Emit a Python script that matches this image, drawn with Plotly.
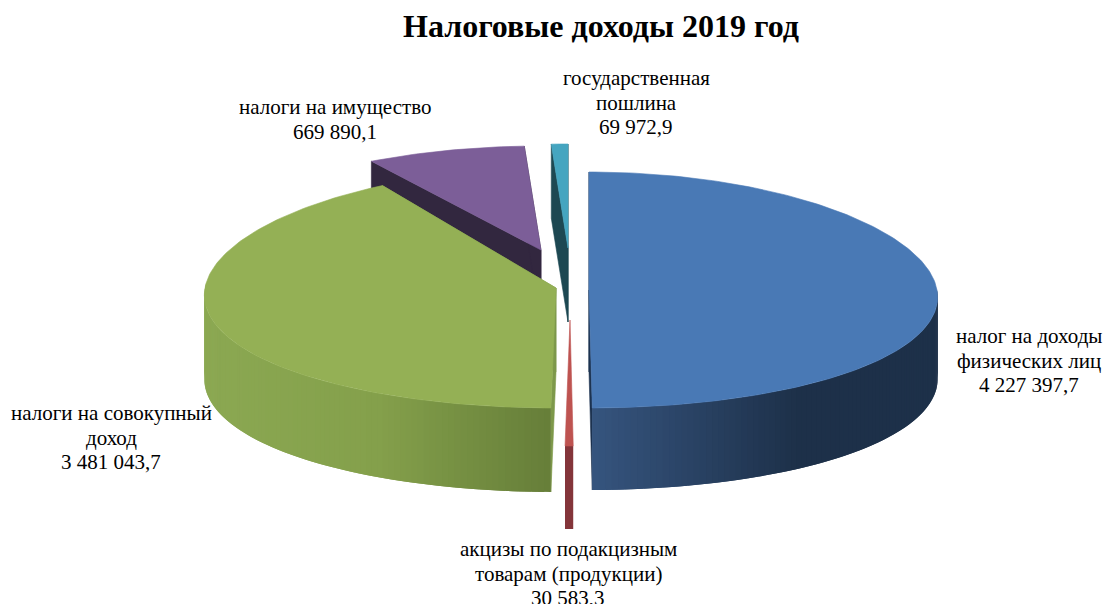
import math

import plotly.graph_objects as go

"""
Tax revenue 2019, drawn as a tilted, exploded pie.
Plotly's own pie is flat, so the slices are built as filled scatter polygons
with their angles worked out from the values.
"""

CATEGORIES = [
    ["налог на доходы", "физических лиц"],
    ["акцизы по подакцизным", "товарам (продукции)"],
    ["налоги на совокупный", "доход"],
    ["налоги на имущество"],
    ["государственная", "пошлина"],
]
VALUES = [4227397.7, 30583.3, 3481043.7, 669890.1, 69972.9]

TITLE = "Налоговые доходы 2019 год"

TOP_COLORS = ["#4979B5", "#BE5350", "#94B055", "#7C5E98", "#45A5C0"]
SIDE_COLORS = ["#1D3350", "#84353A", "#7D984A", "#32273F", "#1D4852"]
# Outer wall shading, left to right: (fraction of width, colour)
WALL_STOPS = [
    [(0.0, "#36557F"), (0.6, "#1D3049"), (1.0, "#1D3049")],
    [(0.0, "#84353A"), (1.0, "#84353A")],
    [(0.0, "#8BA852"), (0.5, "#84A04B"), (1.0, "#667E39")],
    [(0.0, "#32273F"), (1.0, "#32273F")],
    [(0.0, "#1D4852"), (1.0, "#1D4852")],
]

# Exploded slice geometry, in page pixels: centre x, centre y, rx, ry, depth
SLICE_SHAPES = [
    (589, 290, 348, 118, 82),
    (570, 320, 340, 126, 83),
    (556, 288, 351, 120, 84),
    (541, 250, 343, 104, 74),
    (568, 248, 343, 104, 74),
]
PERSPECTIVE = 0.06

# Back slices go first so the green one can cover them
DRAW_ORDER = [3, 4, 0, 2, 1]

# First line centre of each label: x, y
LABEL_POSITIONS = [
    (1029, 336),
    (568, 549),
    (111, 413),
    (335, 107),
    (636, 78),
]
LINE_STEP = 24.5


def format_value(v):
    return f"{v:,.1f}".replace(",", " ").replace(".", ",")


def hex_to_rgb(c):
    return tuple(int(c[i:i + 2], 16) for i in (1, 3, 5))


def wall_color(stops, frac):
    """
    Linear blend between the stops of a wall
    """
    for (f0, c0), (f1, c1) in zip(stops, stops[1:]):
        if frac <= f1:
            t = (frac - f0) / (f1 - f0)
            a, b = hex_to_rgb(c0), hex_to_rgb(c1)
            return "rgb({},{},{})".format(*[round(a[i] + (b[i] - a[i]) * t) for i in range(3)])
    return stops[-1][1]


def project(shape, angle):
    """
    Angle is clockwise from 12 o'clock, the back of the pie is a little narrower
    """
    cx, cy, rx, ry, _ = shape
    a = math.radians(angle)
    scale = 1 - PERSPECTIVE * math.cos(a)
    return cx + rx * math.sin(a) * scale, cy - ry * math.cos(a)


def add_polygon(fig, xs, ys, color, width=0.6):
    fig.add_trace(go.Scatter(x=xs, y=ys, mode="lines", fill="toself", fillcolor=color,
                             line=dict(color=color, width=width), hoverinfo="skip",
                             showlegend=False))


def add_slice(fig, shape, start, end, top, side, stops):
    cx, cy, _, _, depth = shape

    # Radial walls, the very thin slice does not show any
    if end - start > 2:
        for angle in (start, end):
            ox, oy = project(shape, angle)
            add_polygon(fig, [cx, cx, ox, ox, cx], [cy, cy + depth, oy + depth, oy, cy], side)

    steps = max(2, int(end - start))
    angles = [start + (end - start) * i / steps for i in range(steps + 1)]
    rim = [project(shape, a) for a in angles]

    # Outer wall, only the part that faces the viewer.
    # Every strip overlaps the next one so no seams show.
    min_x = min(p[0] for p in rim)
    max_x = max(p[0] for p in rim)
    for i in range(steps):
        if math.cos(math.radians((angles[i] + angles[i + 1]) / 2)) > 0.02:
            continue
        p0, p1 = rim[i], rim[i + 1]
        p2 = rim[min(i + 2, steps)]
        frac = ((p0[0] + p1[0]) / 2 - min_x) / (max_x - min_x)
        color = wall_color(stops, min(max(frac, 0), 1))
        add_polygon(fig, [p0[0], p1[0], p2[0], p2[0], p1[0], p0[0], p0[0]],
                    [p0[1], p1[1], p2[1], p2[1] + depth, p1[1] + depth, p0[1] + depth, p0[1]],
                    color, width=0)

    # Top face
    add_polygon(fig, [cx] + [p[0] for p in rim] + [cx], [cy] + [p[1] for p in rim] + [cy], top)


def add_text(fig, text, x, y, size):
    fig.add_annotation(text=text, x=x, y=y, xref="x", yref="y", showarrow=False,
                       xanchor="center", yanchor="middle",
                       font=dict(family="Liberation Serif", size=size, color="black"))


def plot_data():
    total = sum(VALUES)
    spans = []
    angle = 0
    for v in VALUES:
        spans.append((angle, angle + v / total * 360))
        angle += v / total * 360

    fig = go.Figure()
    for i in DRAW_ORDER:
        add_slice(fig, SLICE_SHAPES[i], spans[i][0], spans[i][1], TOP_COLORS[i], SIDE_COLORS[i], WALL_STOPS[i])

    for lines, v, (x, y) in zip(CATEGORIES, VALUES, LABEL_POSITIONS):
        for n, line in enumerate(lines + [format_value(v)]):
            add_text(fig, line, x, y + n * LINE_STEP, 21)

    add_text(fig, f"<b>{TITLE}</b>", 600.5, 26, 32)

    fig.update_xaxes(range=[0, 1110], visible=False, fixedrange=True)
    fig.update_yaxes(range=[604, 0], visible=False, fixedrange=True)
    fig.update_layout(width=1110, height=604, margin=dict(l=0, r=0, t=0, b=0),
                      paper_bgcolor="white", plot_bgcolor="white", showlegend=False)

    fig.write_html("out.html", config={"displayModeBar": False},
                   post_script="document.body.style.margin='0';")


def main():
    plot_data()


if __name__ == "__main__":
    main()
